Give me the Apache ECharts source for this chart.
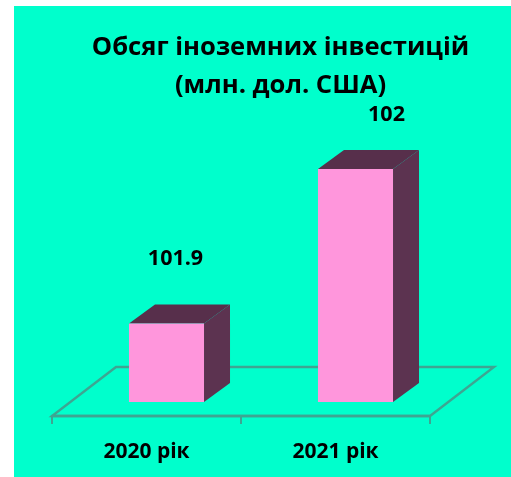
<!DOCTYPE html>
<html>
<head>
<meta charset="utf-8">
<title>Обсяг іноземних інвестицій</title>
<script src="https://cdn.jsdelivr.net/npm/echarts@6/dist/echarts.min.js"></script>
<style>
  html, body { margin: 0; padding: 0; background: #fff; }
  #chart { width: 511px; height: 477px; }
</style>
</head>
<body>
<div id="chart"></div>
<script>
const titleText = 'Обсяг іноземних інвестицій\n(млн. дол. США)';
const categories = ['2020 рік', '2021 рік'];
const values = [101.9, 102];

const fontName = '"Open Sans", sans-serif';
const depthX = 26, depthY = 19;      // bar depth
const floorX = 64, floorY = 49;      // floor depth
// the value labels were dragged by hand in the original
const labelShift = [[9, -65], [31, -54]];

const myChart = echarts.init(document.getElementById('chart'));

function renderFloor(params, api) {
  if (params.dataIndex !== 0) return;
  const left = api.coord([0, 101.84]);
  const cs = params.coordSys;
  const x0 = cs.x, x1 = cs.x + cs.width, y = left[1];
  return {
    type: 'polygon',
    shape: { points: [[x0, y], [x1, y], [x1 + floorX, y - floorY], [x0 + floorX, y - floorY]] },
    style: { fill: 'transparent', stroke: '#3ea592', lineWidth: 2.4 }
  };
}

function renderBar(params, api) {
  const i = api.value(0);
  const top = api.coord([i, api.value(1)]);
  const base = api.coord([i, 101.849]);
  const w = api.size([1, 0])[0] * 0.397;
  const x = top[0] - w / 2 + 20;
  const r = x + w;
  return {
    type: 'group',
    children: [
      {
        type: 'polygon',
        shape: { points: [[x, top[1]], [x + depthX, top[1] - depthY], [r + depthX, top[1] - depthY], [r, top[1]]] },
        style: { fill: '#572f4b' }
      },
      {
        type: 'polygon',
        shape: { points: [[r, top[1]], [r + depthX, top[1] - depthY], [r + depthX, base[1] - depthY], [r, base[1]]] },
        style: { fill: '#5c3350' }
      },
      {
        type: 'rect',
        shape: { x: x, y: top[1], width: w, height: base[1] - top[1] },
        style: { fill: '#ff96dc' }
      },
      {
        type: 'text',
        style: {
          x: top[0] + 20 + labelShift[i][0],
          y: top[1] + labelShift[i][1],
          text: String(api.value(1)),
          font: 'bold 21.5px ' + fontName,
          fill: '#000',
          align: 'center',
          verticalAlign: 'middle'
        }
      }
    ]
  };
}

const option = {
  backgroundColor: '#fff',
  animation: false,
  graphic: [{
    type: 'rect',
    z: -10,
    shape: { x: 14, y: 6, width: 497, height: 471 },
    style: { fill: '#00ffcc' }
  }],
  title: {
    text: titleText,
    left: 275.5,
    top: 24,
    textAlign: 'center',
    textStyle: { fontFamily: fontName, fontWeight: 'bold', fontSize: 25.6, lineHeight: 38, color: '#000' }
  },
  grid: { left: 52, width: 378, top: 169, height: 247 },
  xAxis: {
    type: 'category',
    data: categories,
    axisLine: { lineStyle: { color: '#3ea592', width: 2.4 } },
    axisTick: { show: true, alignWithLabel: false, length: 8, lineStyle: { color: '#3ea592', width: 2 } },
    axisLabel: { margin: 26, fontFamily: fontName, fontWeight: 'bold', fontSize: 21, color: '#000' }
  },
  yAxis: { type: 'value', min: 101.84, max: 102, show: false, splitLine: { show: false } },
  series: [
    { type: 'custom', renderItem: renderFloor, data: [0], encode: { x: 0, y: 0 }, silent: true, clip: false, z: 1 },
    {
      type: 'custom',
      renderItem: renderBar,
      clip: false,
      z: 2,
      encode: { x: 0, y: 1 },
      data: values.map((v, i) => [i, v])
    }
  ]
};
myChart.setOption(option);
</script>
</body>
</html>
